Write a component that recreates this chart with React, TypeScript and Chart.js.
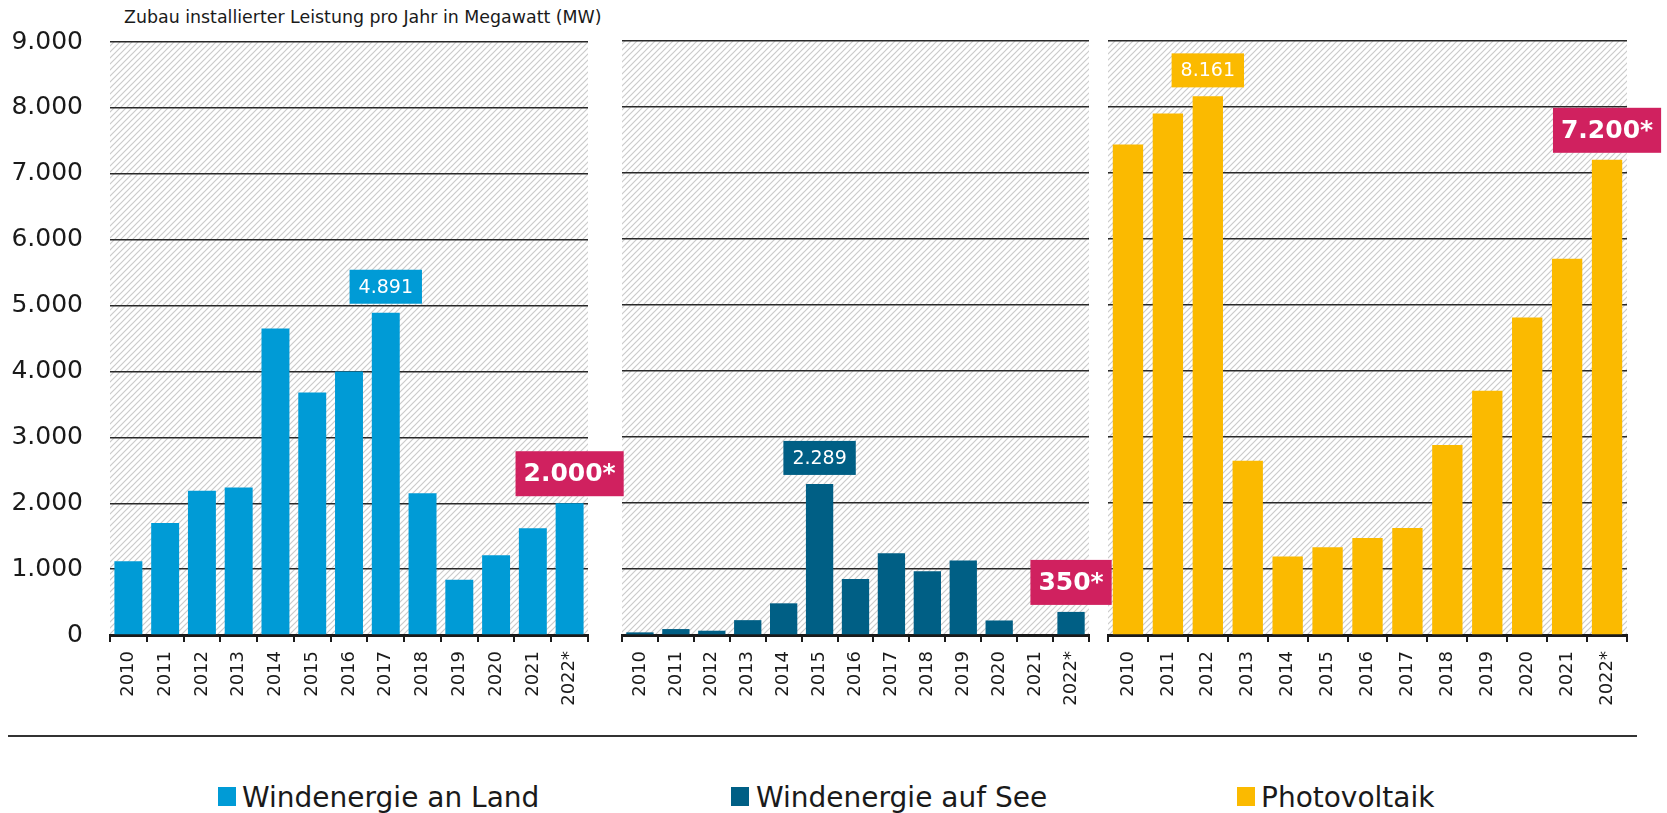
import React, { useEffect, useRef } from 'react';
import { Chart, registerables } from 'chart.js';

Chart.register(...registerables);

// ---------- data ----------
const years = ['2010', '2011', '2012', '2013', '2014', '2015', '2016', '2017', '2018', '2019', '2020', '2021', '2022*'];
const onshoreValues = [1120, 1700, 2190, 2240, 4650, 3680, 4000, 4891, 2150, 840, 1210, 1620, 2000];
const offshoreValues = [40, 90, 65, 225, 480, 2289, 850, 1240, 965, 1130, 220, 0, 350];
const pvValues = [7430, 7900, 8161, 2640, 1190, 1330, 1470, 1620, 2880, 3700, 4810, 5700, 7200];
const seriesNames = ['Windenergie an Land', 'Windenergie auf See', 'Photovoltaik'];
const seriesColors = ['#009bd6', '#005f85', '#fbba00'];
const valueCalloutIndex = [7, 5, 2];
const forecastCalloutIndex = [12, 12, 12];
const yMin = 0;
const yMax = 9000;
const yStep = 1000;
const titleText = 'Zubau installierter Leistung pro Jahr in Megawatt (MW)';
const forecastColor = '#d0215f';

const FONT = "'DejaVu Sans', sans-serif";
const INK = '#1a1a1a';

const fmt = (v: number) => String(Math.round(v)).replace(/\B(?=(\d{3})+(?!\d))/g, '.');

let hatchPattern: CanvasPattern | null = null;
function getHatch(ctx: CanvasRenderingContext2D) {
  if (hatchPattern) return hatchPattern;
  const s = 6;
  const c = document.createElement('canvas');
  c.width = s;
  c.height = s;
  const g = c.getContext('2d')!;
  g.fillStyle = '#ffffff';
  g.fillRect(0, 0, s, s);
  g.strokeStyle = '#cbcbcb';
  g.lineWidth = 1.2;
  g.beginPath();
  g.moveTo(0, s);
  g.lineTo(s, 0);
  g.moveTo(-s / 2, s / 2);
  g.lineTo(s / 2, -s / 2);
  g.moveTo(s / 2, s * 1.5);
  g.lineTo(s * 1.5, s / 2);
  g.stroke();
  hatchPattern = ctx.createPattern(c, 'repeat');
  return hatchPattern;
}

const hatchPlugin = {
  id: 'hatchBg',
  beforeDraw(chart: any) {
    const { ctx, chartArea } = chart;
    if (!chartArea) return;
    ctx.save();
    ctx.fillStyle = getHatch(ctx) as any;
    ctx.fillRect(chartArea.left, chartArea.top, chartArea.right - chartArea.left, chartArea.bottom - chartArea.top);
    ctx.restore();
  },
};

const calloutPlugin = {
  id: 'callouts',
  afterDraw(chart: any, _args: any, opts: any) {
    const { ctx } = chart;
    const meta = chart.getDatasetMeta(0);
    const values = chart.data.datasets[0].data as number[];
    const drawBox = (i: number, text: string, font: string, bg: string, padX: number, h: number, gap: number) => {
      const el = meta.data[i];
      if (!el) return;
      ctx.save();
      ctx.font = font;
      const tw = ctx.measureText(text).width;
      const w = tw + padX * 2;
      const bottom = el.y - gap;
      const x = el.x - w / 2;
      ctx.fillStyle = bg;
      ctx.fillRect(x, bottom - h, w, h);
      ctx.fillStyle = '#ffffff';
      ctx.textAlign = 'center';
      ctx.textBaseline = 'middle';
      ctx.fillText(text, el.x, bottom - h / 2 + 1);
      ctx.restore();
    };
    if (opts.valueIndex != null) {
      drawBox(opts.valueIndex, fmt(values[opts.valueIndex]), `19px ${FONT}`, opts.color, 9, 34, 9);
    }
    if (opts.forecastIndex != null) {
      drawBox(opts.forecastIndex, fmt(values[opts.forecastIndex]) + '*', `bold 25px ${FONT}`, forecastColor, 8, 45, 7);
    }
  },
};

type PanelCfg = {
  left: number;
  width: number;
  padLeft: number;
  padRight: number;
  showY: boolean;
  values: number[];
  color: string;
  valueIndex: number;
  forecastIndex: number;
  z: number;
};

const CANVAS_H = 725;
const PLOT_BOTTOM = 635;

function Panel({ cfg }: { cfg: PanelCfg }) {
  const ref = useRef<HTMLCanvasElement>(null);
  useEffect(() => {
    if (!ref.current) return;
    const chart = new Chart(ref.current, {
      type: 'bar',
      data: {
        labels: years,
        datasets: [
          {
            data: cfg.values,
            backgroundColor: cfg.color,
            borderWidth: 0,
            barPercentage: 0.76,
            categoryPercentage: 1,
          },
        ],
      },
      options: {
        responsive: false,
        animation: false,
        events: [],
        layout: { padding: { top: 41, bottom: 0, left: cfg.padLeft, right: cfg.padRight } },
        plugins: {
          legend: { display: false },
          tooltip: { enabled: false },
          callouts: { valueIndex: cfg.valueIndex, forecastIndex: cfg.forecastIndex, color: cfg.color },
        } as any,
        scales: {
          x: {
            grid: { drawOnChartArea: false, drawTicks: true, tickLength: 7, color: INK, lineWidth: 2, offset: true },
            border: { display: true, color: INK, width: 3 },
            ticks: {
              font: { family: FONT, size: 18 },
              color: INK,
              minRotation: 90,
              maxRotation: 90,
              padding: 9,
              autoSkip: false,
            },
            afterFit: (s: any) => {
              s.height = CANVAS_H - PLOT_BOTTOM;
            },
          },
          y: {
            min: yMin,
            max: yMax,
            ticks: {
              stepSize: yStep,
              display: cfg.showY,
              font: { family: FONT, size: 25 },
              color: INK,
              padding: 27,
              callback: (v: any) => fmt(Number(v)),
            },
            grid: { color: '#2a2a2a', lineWidth: 1.4, drawTicks: false },
            border: { display: false },
            afterFit: (s: any) => {
              s.width = cfg.showY ? 110 : 0;
            },
          },
        },
      } as any,
      plugins: [hatchPlugin, calloutPlugin],
    });
    return () => chart.destroy();
  }, []);
  return (
    <canvas
      ref={ref}
      width={cfg.width}
      height={CANVAS_H}
      style={{ position: 'absolute', left: cfg.left, top: 0, width: cfg.width, height: CANVAS_H, zIndex: cfg.z }}
    />
  );
}

const panels: PanelCfg[] = [
  { left: 0, width: 640, padLeft: 0, padRight: 52, showY: true, values: onshoreValues, color: seriesColors[0], valueIndex: valueCalloutIndex[0], forecastIndex: forecastCalloutIndex[0], z: 3 },
  { left: 600, width: 520, padLeft: 22, padRight: 31, showY: false, values: offshoreValues, color: seriesColors[1], valueIndex: valueCalloutIndex[1], forecastIndex: forecastCalloutIndex[1], z: 2 },
  { left: 1090, width: 577, padLeft: 18, padRight: 40, showY: false, values: pvValues, color: seriesColors[2], valueIndex: valueCalloutIndex[2], forecastIndex: forecastCalloutIndex[2], z: 1 },
];

const legendPos = [
  { sq: 218, text: 242 },
  { sq: 731, text: 756 },
  { sq: 1237, text: 1261 },
];

export default function App() {
  return (
    <div
      style={{
        position: 'absolute',
        left: 0,
        top: 0,
        width: 1667,
        height: 813,
        overflow: 'hidden',
        background: '#ffffff',
        fontFamily: FONT,
        color: INK,
      }}
    >
      <div style={{ position: 'absolute', left: 124, top: 9, fontSize: 17.4, lineHeight: '17px', whiteSpace: 'nowrap' }}>
        {titleText}
      </div>
      {panels.map((p, i) => (
        <Panel key={i} cfg={p} />
      ))}
      <div style={{ position: 'absolute', left: 8, top: 735, width: 1629, height: 2, background: '#333333', zIndex: 5 }} />
      {seriesNames.map((name, i) => (
        <React.Fragment key={name}>
          <div
            style={{
              position: 'absolute',
              left: legendPos[i].sq,
              top: 787,
              width: 18,
              height: 19,
              background: seriesColors[i],
            }}
          />
          <div
            style={{
              position: 'absolute',
              left: legendPos[i].text,
              top: 784,
              fontSize: 28,
              lineHeight: '28px',
              whiteSpace: 'nowrap',
            }}
          >
            {name}
          </div>
        </React.Fragment>
      ))}
    </div>
  );
}
